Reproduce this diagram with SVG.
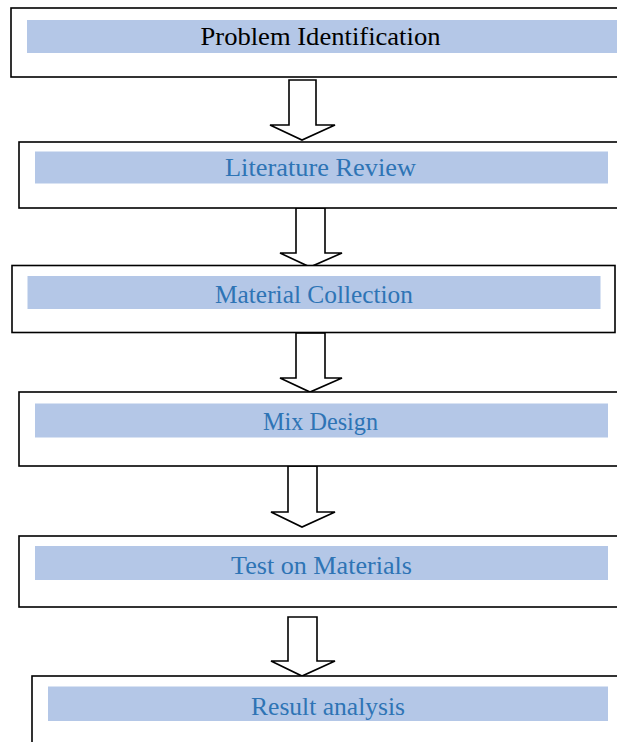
<svg xmlns="http://www.w3.org/2000/svg" width="617" height="742" viewBox="0 0 617 742">
<style>
.box{fill:#fff;stroke:#000;stroke-width:1.6}
.bar{fill:#B4C7E7}
.t{font-family:"Liberation Serif","Times New Roman",serif;font-size:26px;text-anchor:middle}
.blue{fill:#2E74B5}
.black{fill:#000}
.arr{fill:#fff;stroke:#000;stroke-width:1.6;stroke-linejoin:miter}
</style>
<rect width="617" height="742" fill="#fff"/>
<g id="connectors">
<polygon class="arr" points="289,80 316,80 316,125 335,125 302,140 270,125 289,125"/>
<polygon class="arr" points="296,208 325,208 325,253 342,253 310,267 280,253 296,253"/>
<polygon class="arr" points="296,333 325,333 325,378 342,378 310,392 280,378 296,378"/>
<polygon class="arr" points="288,466 317,466 317,512 335,512 302,527 271,512 288,512"/>
<polygon class="arr" points="288,617 317,617 317,661 335,661 302,676 271,661 288,661"/>
</g>
<g id="node-problem">
<rect class="box" x="11" y="8" width="620" height="69"/>
<rect class="bar" x="27" y="20" width="600" height="33"/>
<text class="t black" x="320.5" y="45" textLength="240" lengthAdjust="spacingAndGlyphs">Problem Identification</text>
</g>
<g id="node-literature">
<rect class="box" x="19" y="142" width="620" height="66"/>
<rect class="bar" x="35" y="151.5" width="573" height="32"/>
<text class="t blue" x="320.5" y="176" textLength="191" lengthAdjust="spacingAndGlyphs">Literature Review</text>
</g>
<g id="node-material">
<rect class="box" x="12" y="265.5" width="603" height="67"/>
<rect class="bar" x="27.5" y="276" width="573" height="33"/>
<text class="t blue" x="314" y="303" textLength="198" lengthAdjust="spacingAndGlyphs">Material Collection</text>
</g>
<g id="node-mix">
<rect class="box" x="19" y="392" width="620" height="74"/>
<rect class="bar" x="35" y="403.5" width="573" height="34"/>
<text class="t blue" x="320.5" y="430" textLength="115" lengthAdjust="spacingAndGlyphs">Mix Design</text>
</g>
<g id="node-test">
<rect class="box" x="19" y="536" width="620" height="71"/>
<rect class="bar" x="35" y="546" width="573" height="34"/>
<text class="t blue" x="321.5" y="574" textLength="181" lengthAdjust="spacingAndGlyphs">Test on Materials</text>
</g>
<g id="node-result">
<rect class="box" x="32" y="676" width="620" height="90"/>
<rect class="bar" x="48" y="686.5" width="560" height="34.5"/>
<text class="t blue" x="328" y="715" textLength="154" lengthAdjust="spacingAndGlyphs">Result analysis</text>
</g>
</svg>
